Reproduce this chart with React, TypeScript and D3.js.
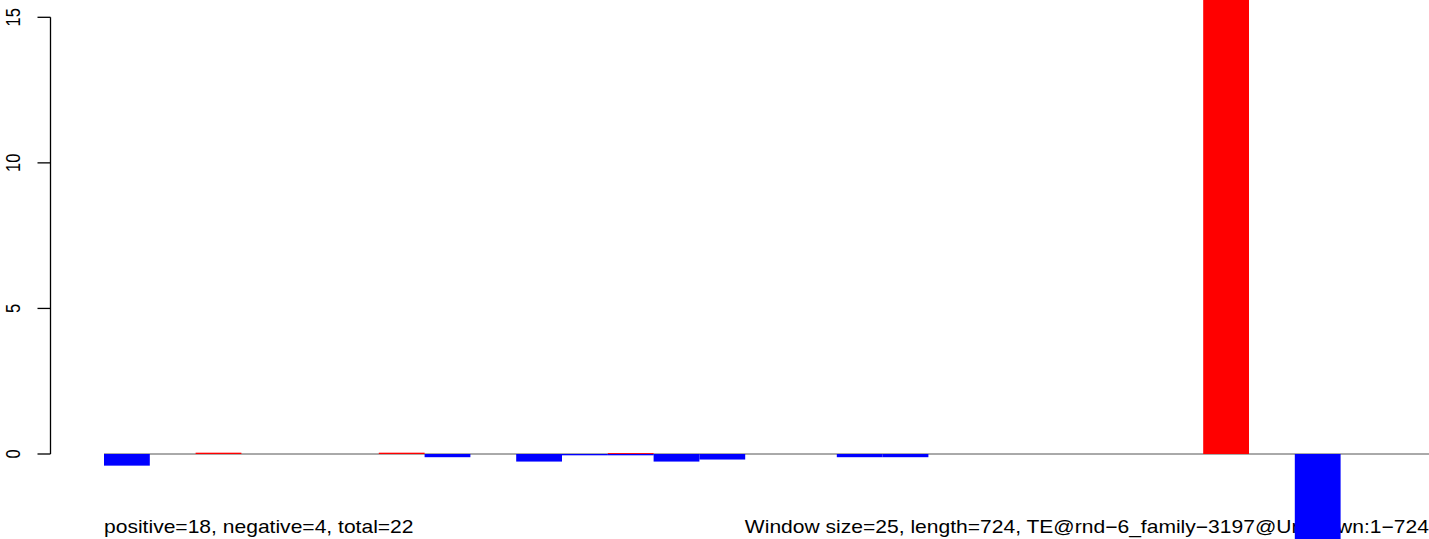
import React from "react";
import * as d3 from "d3";

const windowIndex: number[] = Array.from({ length: 29 }, (_, i) => i);
const positiveValues: number[] = [0, 0, 0.045, 0, 0, 0, 0.045, 0, 0, 0, 0, 0.03, 0, 0, 0, 0, 0, 0, 0, 0, 0, 0, 0, 0, 17, 0, 0, 0, 0];
const negativeValues: number[] = [0.4, 0, 0, 0, 0, 0, 0, 0.11, 0, 0.26, 0.045, 0.045, 0.26, 0.19, 0, 0, 0.11, 0.11, 0, 0, 0, 0, 0, 0, 0, 0, 3.2, 0, 0];
const yTicks: number[] = [0, 5, 10, 15];
const leftLabel = "positive=18, negative=4, total=22";
const rightLabel = "Window size=25, length=724, TE@rnd\u22126_family\u22123197@Unknown:1\u2212724";

const W = 1429;
const H = 539;

export default function App() {
  const x = d3.scaleBand<number>().domain(windowIndex).range([104, 104 + 29 * 45.8]).padding(0);
  const y = d3.scaleLinear().domain([0, 15]).range([454, 17.3]);
  const font = "'Liberation Sans', Arial, Helvetica, sans-serif";
  const axisX = 50.5;
  const sx = 1.17;
  return (
    <svg width={W} height={H} style={{ position: "absolute", left: 0, top: 0, background: "#fff" }}>
      {/* y axis */}
      <line x1={axisX} x2={axisX} y1={y(15)} y2={y(0)} stroke="#000" strokeWidth={1.3} />
      {yTicks.map((t) => (
        <g key={t}>
          <line x1={axisX - 13} x2={axisX} y1={y(t)} y2={y(t)} stroke="#000" strokeWidth={1.3} />
          <text
            transform={`translate(${20},${y(t)}) scale(1.2,1) rotate(-90)`}
            textAnchor="middle"
            fontFamily={font}
            fontSize={16.5}
            fill="#000"
          >
            {t}
          </text>
        </g>
      ))}
      {/* baseline */}
      <line x1={104} x2={W} y1={y(0)} y2={y(0)} stroke="#555" strokeWidth={1} />
      {/* labels */}
      <text transform={`translate(104,532.5) scale(${sx},1)`} fontFamily={font} fontSize={18} fill="#000">{leftLabel}</text>
      <text transform={`translate(1429,532.5) scale(${sx},1)`} textAnchor="end" fontFamily={font} fontSize={18} fill="#000">{rightLabel}</text>
      {/* bars */}
      {windowIndex.map((i) =>
        positiveValues[i] > 0 ? (
          <rect key={"p" + i} x={x(i)!} width={x.bandwidth()} y={y(positiveValues[i])} height={y(0) - y(positiveValues[i])} fill="#ff0000" />
        ) : null
      )}
      {windowIndex.map((i) =>
        negativeValues[i] > 0 ? (
          <rect key={"n" + i} x={x(i)!} width={x.bandwidth()} y={y(0)} height={y(0) - y(negativeValues[i])} fill="#0000ff" />
        ) : null
      )}
    </svg>
  );
}
